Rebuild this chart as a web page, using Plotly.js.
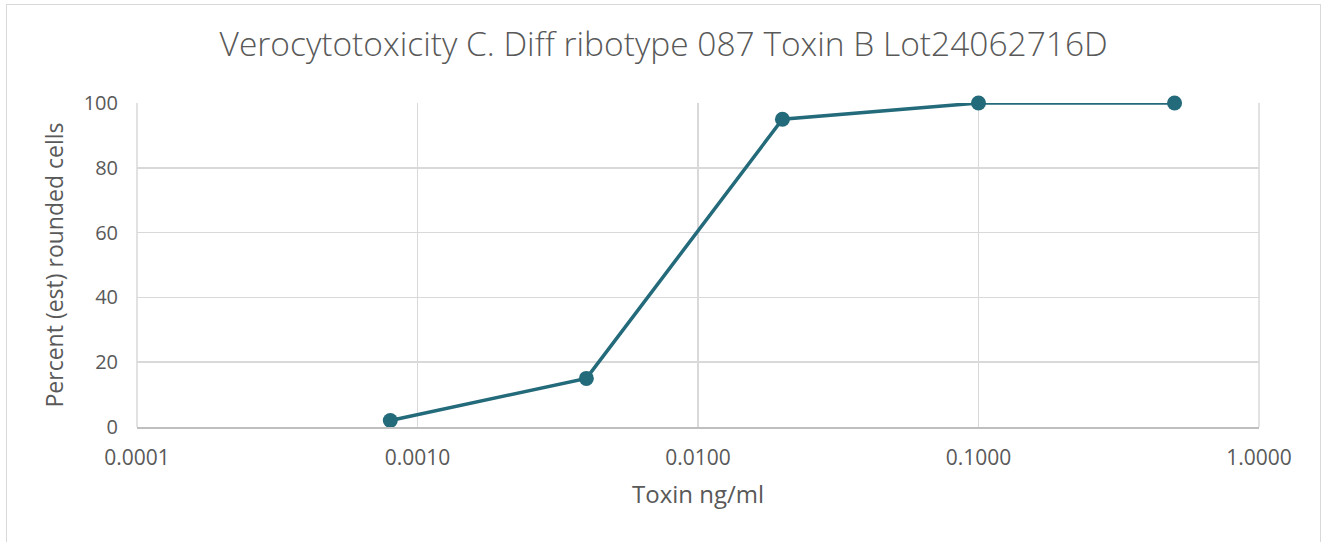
<!DOCTYPE html>
<html><head><meta charset="utf-8">
<script src="https://cdn.plot.ly/plotly-3.0.1.min.js"></script>
<style>
html,body{margin:0;padding:0;background:#fff;}
#wrap{position:relative;width:1322px;height:542px;overflow:hidden;}
#chart{position:absolute;left:0;top:0;width:1322px;height:542px;}
#frame{position:absolute;left:6px;top:4px;width:1313px;height:560px;border:1.5px solid #d9d9d9;pointer-events:none;}
</style></head>
<body><div id="wrap"><div id="chart"></div><div id="frame"></div></div>
<script>
const toxinNgMl = [0.0008, 0.004, 0.02, 0.1, 0.5];
const percentRounded = [2, 15, 95, 100, 100];
const xTickVals = [0.0001, 0.001, 0.01, 0.1, 1];
const xTickText = ["0.0001", "0.0010", "0.0100", "0.1000", "1.0000"];
const yTickVals = [0, 20, 40, 60, 80, 100];

const FONT = "'Open Sans', 'Noto Sans', sans-serif";
const trace = {
  x: toxinNgMl, y: percentRounded, type: 'scatter', mode: 'lines+markers',
  line: {color: '#236A7A', width: 3.5},
  marker: {color: '#236A7A', size: 15},
  cliponaxis: false, hoverinfo: 'x+y'
};
const layout = {
  width: 1322, height: 542,
  margin: {l: 137, r: 63, t: 103, b: 115},
  paper_bgcolor: 'rgba(0,0,0,0)', plot_bgcolor: '#fff',
  font: {family: FONT, color: '#595959', size: 20},
  showlegend: false,
  title: {text: 'Verocytotoxicity C. Diff ribotype 087 Toxin B Lot24062716D',
          font: {family: FONT, size: 33.5, weight: 300, color: '#595959'},
          xref: 'container', x: 0.502, xanchor: 'center',
          yref: 'container', y: 0.918, yanchor: 'middle'},
  xaxis: {type: 'log', range: [-4, 0], tickvals: xTickVals, ticktext: xTickText,
          showgrid: true, gridcolor: '#d9d9d9', gridwidth: 1.5,
          showline: true, linecolor: '#bfbfbf', linewidth: 1.5,
          zeroline: false, ticks: '', ticklabelstandoff: 11,
          tickfont: {size: 21, color: '#595959'},
          title: {text: 'Toxin ng/ml', font: {size: 24, color: '#595959'}, standoff: 16}},
  yaxis: {range: [0, 100], tickvals: yTickVals,
          showgrid: true, gridcolor: '#d9d9d9', gridwidth: 1.5,
          showline: false, zeroline: false, ticks: '', ticklabelstandoff: 18,
          tickfont: {size: 20, color: '#595959'},
          title: {text: 'Percent (est) rounded cells', font: {size: 23, color: '#595959'}, standoff: 13}},
  shapes: [{type: 'line', xref: 'paper', yref: 'paper', x0: 1, x1: 1, y0: 0, y1: 1,
            line: {color: '#d9d9d9', width: 1.5}},
           {type: 'line', xref: 'paper', yref: 'paper', x0: 0, x1: 0, y0: 0, y1: 1,
            line: {color: '#d9d9d9', width: 1.5}}]
};
Plotly.newPlot('chart', [trace], layout, {displayModeBar: false, staticPlot: true});
</script></body></html>
